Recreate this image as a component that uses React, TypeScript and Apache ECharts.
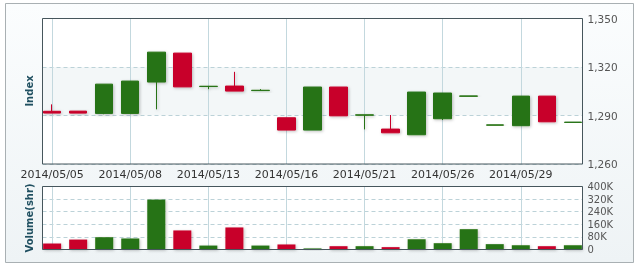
import React, { useEffect, useRef } from "react";
import * as echarts from "echarts";

const dates = [
  "2014/05/05", "2014/05/06", "2014/05/07", "2014/05/08", "2014/05/09", "2014/05/12",
  "2014/05/13", "2014/05/14", "2014/05/15", "2014/05/16", "2014/05/19", "2014/05/20",
  "2014/05/21", "2014/05/22", "2014/05/23", "2014/05/26", "2014/05/27", "2014/05/28",
  "2014/05/29", "2014/05/30", "2014/06/02",
];
const opens = [1292.6, 1292.7, 1291.3, 1291.3, 1310.7, 1328.6, 1307.9, 1308.2, 1305.4, 1288.6, 1281.0, 1307.6, 1290.2, 1281.6, 1278.1, 1288.0, 1301.9, 1284.0, 1283.7, 1302.0, 1285.7];
const closes = [1291.5, 1291.5, 1309.4, 1311.3, 1329.2, 1307.7, 1308.1, 1305.1, 1305.6, 1281.0, 1307.6, 1289.8, 1290.4, 1279.3, 1304.5, 1303.9, 1302.1, 1284.2, 1302.0, 1286.1, 1285.9];
const lows = [1291.5, 1291.5, 1290.8, 1291.3, 1293.8, 1307.7, 1306.3, 1305.1, 1305.4, 1281.0, 1281.0, 1289.8, 1281.4, 1279.3, 1278.1, 1287.2, 1301.9, 1284.0, 1283.7, 1286.1, 1285.7];
const highs = [1296.9, 1292.7, 1309.4, 1311.3, 1329.2, 1328.6, 1308.3, 1317.0, 1306.3, 1288.6, 1307.6, 1307.6, 1290.4, 1290.3, 1304.5, 1303.9, 1302.1, 1284.2, 1302.0, 1302.0, 1285.9];
const volumesK = [38, 63, 78, 70, 317, 121, 25, 140, 25, 32, 7, 21, 21, 15, 65, 40, 129, 34, 27, 21, 27];
const labelIdx = [0, 3, 6, 9, 12, 15, 18];
const indexTicks = { min: 1260, max: 1350, interval: 30 };
const volTicks = { min: 0, max: 400000, interval: 80000 };

const GREEN = "#267314";
const RED = "#c8002a";
const FONT = "DejaVu Sans";

export default function App() {
  const ref = useRef<HTMLDivElement>(null);
  useEffect(() => {
    if (!ref.current) return;
    const chart = echarts.init(ref.current, undefined, { renderer: "svg" });
    const candleData = dates.map((_, i) => [i, opens[i], closes[i], lows[i], highs[i]]);
    const volData = dates.map((_, i) => ({
      value: [i, volumesK[i] * 1000],
      itemStyle: { color: closes[i] >= opens[i] ? GREEN : RED },
    }));
    const vLines = labelIdx.map((i) => ({ xAxis: i }));
    const markLine = {
      silent: true,
      symbol: "none",
      label: { show: false },
      lineStyle: { color: "#c3d8de", width: 1, type: "solid" },
      data: vLines,
      z: 1,
    };
    const shadow = { shadowBlur: 3, shadowColor: "rgba(0,0,0,0.25)", shadowOffsetX: 1, shadowOffsetY: 1 };
    const L = 42.5, W = 540;
    chart.setOption({
      animation: false,
      textStyle: { fontFamily: FONT },
      graphic: [
        {
          type: "rect", z: -10, silent: true,
          shape: { x: 5.5, y: 3.5, width: 628, height: 259 },
          style: {
            fill: new echarts.graphic.LinearGradient(0, 0, 0, 1, [
              { offset: 0, color: "#fbfdfe" },
              { offset: 1, color: "#eef3f5" },
            ]),
            stroke: "#a9b0b3", lineWidth: 1,
          },
        },
        {
          type: "rect", z: 100, silent: true,
          shape: { x: L, y: 18.5, width: W, height: 145.5 },
          style: { fill: "none", stroke: "#46565c", lineWidth: 1 },
        },
        {
          type: "rect", z: 100, silent: true,
          shape: { x: L, y: 186.5, width: W, height: 63 },
          style: { fill: "none", stroke: "#46565c", lineWidth: 1 },
        },
        {
          type: "text", z: 100, x: 29, y: 91, rotation: Math.PI / 2,
          style: { text: "Index", fill: "#1f4f60", font: `bold 10px '${FONT}'`, textAlign: "center", textVerticalAlign: "middle" },
        },
        {
          type: "text", z: 100, x: 29, y: 218, rotation: Math.PI / 2,
          style: { text: "Volume(shr)", fill: "#1f4f60", font: `bold 10px '${FONT}'`, textAlign: "center", textVerticalAlign: "middle" },
        },
      ],
      grid: [
        { left: L, width: W, top: 18.5, height: 145.5, show: true, backgroundColor: "#ffffff", borderWidth: 0 },
        { left: L, width: W, top: 186.5, height: 63, show: true, backgroundColor: "#ffffff", borderWidth: 0 },
      ],
      xAxis: [
        {
          type: "value", gridIndex: 0, min: -0.37, max: 20.37,
          axisLine: { show: false }, axisTick: { show: false }, splitLine: { show: false },
          axisLabel: {
            customValues: labelIdx, margin: 5, color: "#333", fontSize: 11, fontFamily: FONT,
            formatter: (v: number) => dates[Math.round(v)] ?? "",
          },
        },
        {
          type: "value", gridIndex: 1, min: -0.37, max: 20.37,
          axisLine: { show: false }, axisTick: { show: false }, splitLine: { show: false },
          axisLabel: { show: false },
        },
      ],
      yAxis: [
        {
          type: "value", gridIndex: 0, position: "right", ...indexTicks,
          axisLine: { show: false }, axisTick: { show: false },
          splitLine: { show: true, lineStyle: { color: "#bcd2d8", type: [4, 3] } },
          splitArea: { show: true, areaStyle: { color: ["#ffffff", "#f3f7f8"] } },
          axisLabel: {
            margin: 5, color: "#555", fontSize: 10.5, fontFamily: FONT,
            formatter: (v: number) => v.toLocaleString("en-US"),
          },
        },
        {
          type: "value", gridIndex: 1, position: "right", ...volTicks,
          axisLine: { show: false }, axisTick: { show: false },
          splitLine: { show: true, lineStyle: { color: "#bcd2d8", type: [4, 3] } },
          axisLabel: {
            margin: 5, color: "#555", fontSize: 10, fontFamily: FONT,
            formatter: (v: number) => (v === 0 ? "0" : v / 1000 + "K"),
          },
        },
      ],
      series: [
        {
          type: "candlestick", xAxisIndex: 0, yAxisIndex: 0,
          data: candleData, encode: { x: 0, y: [1, 2, 3, 4] },
          barWidth: 18,
          itemStyle: { color: GREEN, color0: RED, borderColor: GREEN, borderColor0: RED, borderWidth: 1, ...shadow },
          markLine,
          z: 3,
        },
        {
          type: "bar", xAxisIndex: 1, yAxisIndex: 1,
          data: volData, barWidth: 18,
          itemStyle: { ...shadow },
          markLine,
          z: 3,
        },
      ],
    });
    return () => chart.dispose();
  }, []);
  return <div ref={ref} style={{ position: "fixed", left: 0, top: 0, width: 637, height: 267 }} />;
}
